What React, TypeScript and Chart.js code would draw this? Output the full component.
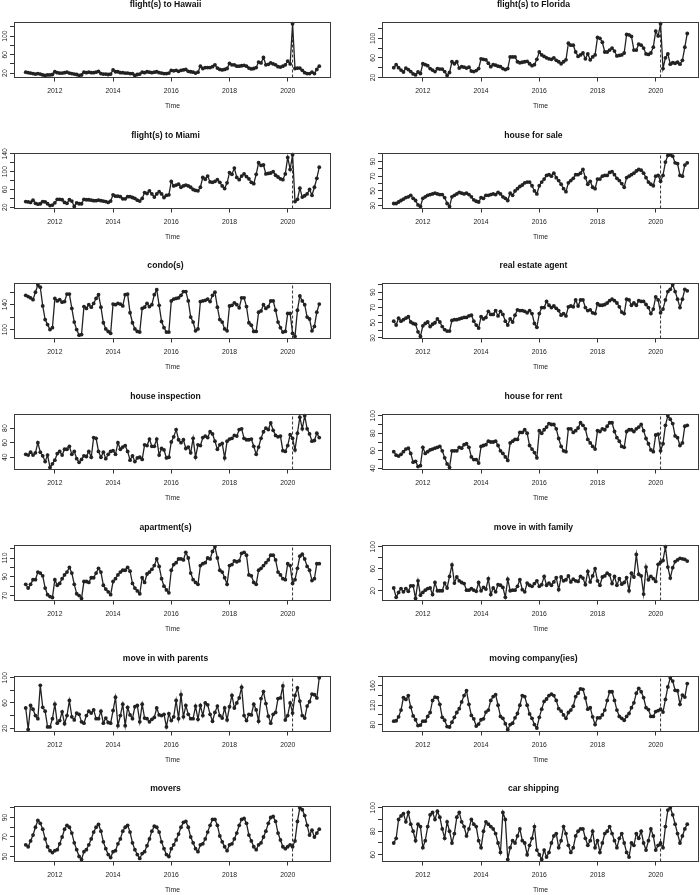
import React, { useEffect, useRef } from 'react';
import { Chart, registerables } from 'chart.js';

Chart.register(...registerables);
Chart.defaults.font.family = '"Liberation Sans", Arial, Helvetica, sans-serif';

const START_YEAR = 2011;
const MARK_TIME = 2020 + 2 / 12;
const X_TICKS = [2012, 2014, 2016, 2018, 2020];

const hawaii = [
  22, 21, 20, 19, 18, 19, 18, 16, 15, 16, 16, 17,
  23, 21, 20, 20, 21, 22, 20, 19, 18, 17, 15, 16,
  22, 21, 22, 21, 21, 22, 24, 19, 18, 18, 17, 18,
  27, 23, 23, 21, 21, 20, 20, 19, 19, 15, 17, 18,
  22, 21, 23, 22, 21, 22, 23, 21, 20, 19, 19, 20,
  26, 25, 26, 24, 26, 27, 28, 24, 23, 22, 20, 22,
  35, 30, 32, 32, 32, 34, 38, 31, 28, 27, 28, 30,
  41, 38, 38, 35, 35, 36, 37, 35, 31, 29, 30, 32,
  44, 42, 54, 38, 39, 42, 40, 38, 34, 33, 35, 38,
  46, 40, 127, 30, 31, 31, 26, 21, 19, 19, 22, 19,
  28, 35,
];
const florida = [
  40, 46, 40, 35, 31, 39, 36, 32, 27, 25, 31, 28,
  48, 46, 44, 38, 35, 32, 38, 37, 37, 32, 24, 30,
  52, 48, 52, 39, 42, 41, 39, 41, 33, 32, 34, 38,
  58, 57, 56, 49, 42, 46, 45, 43, 42, 38, 36, 38,
  62, 62, 62, 52, 50, 51, 52, 53, 48, 44, 46, 57,
  72, 66, 63, 60, 58, 57, 60, 55, 52, 48, 52, 56,
  90, 86, 86, 72, 63, 66, 70, 58, 68, 56, 62, 66,
  102, 100, 92, 72, 72, 76, 80, 74, 64, 65, 66, 70,
  108, 107, 104, 76, 76, 88, 86, 80, 68, 67, 70, 82,
  115, 105, 130, 38, 60, 68, 47, 50, 49, 51, 47, 55,
  82, 110,
];
const miami = [
  33, 32, 31, 36, 29, 27, 28, 33, 32, 28, 24, 25,
  30, 38, 38, 37, 31, 29, 37, 34, 22, 30, 28, 28,
  38, 37, 37, 36, 35, 35, 36, 35, 34, 33, 31, 34,
  48, 45, 45, 44, 39, 39, 44, 44, 42, 40, 36, 34,
  40, 53, 51, 57, 50, 43, 50, 55, 50, 42, 47, 48,
  78, 68, 70, 72, 65, 68, 70, 68, 65, 60, 58, 57,
  65, 87, 83, 90, 77, 76, 78, 82, 76, 68, 62, 75,
  98, 94, 108, 87, 82, 90, 95, 89, 84, 76, 73, 94,
  120, 114, 115, 95, 96, 97, 100, 92, 88, 84, 82, 95,
  132, 105, 138, 33, 38, 63, 43, 46, 50, 60, 47, 65,
  85, 110,
];
const houseForSale = [
  33, 33, 35, 37, 39, 41, 42, 44, 40, 37, 31, 29,
  40, 42, 44, 45, 46, 47, 46, 45, 45, 41, 33, 29,
  42, 44, 46, 48, 47, 46, 47, 45, 42, 38, 36, 35,
  41, 40, 44, 44, 45, 46, 45, 48, 46, 42, 40, 37,
  47, 44, 50, 53, 56, 58, 61, 62, 62, 57, 50, 46,
  57, 62, 66, 71, 72, 70, 74, 68, 64, 59, 53, 49,
  61, 64, 67, 72, 72, 74, 79, 68, 59, 63, 55, 53,
  66, 66, 70, 71, 71, 75, 76, 72, 67, 64, 60, 55,
  68, 70, 72, 74, 77, 79, 78, 74, 68, 62, 59, 57,
  70, 71, 63, 71, 89, 98, 99, 97, 88, 87, 71, 70,
  85, 88,
];
const condo = [
  155, 153, 151, 148, 160, 172, 168, 138, 116, 108, 100, 103,
  150, 146, 148, 144, 145, 157, 157, 134, 112, 100, 91, 92,
  137, 134, 140, 136, 142, 150, 156, 136, 111, 101, 97, 94,
  141, 140, 142, 141, 138, 156, 157, 127, 111, 101, 97, 96,
  134, 136, 142, 137, 140, 156, 164, 139, 113, 103, 96, 96,
  146, 149, 150, 151, 155, 161, 161, 146, 120, 112, 98, 101,
  145, 146, 147, 149, 145, 155, 160, 136, 116, 112, 101, 98,
  138, 139, 143, 140, 135, 151, 151, 137, 111, 107, 97, 97,
  128, 130, 140, 134, 137, 146, 146, 131, 112, 103, 96, 97,
  126, 126, 94, 89, 131, 154, 146, 140, 120, 117, 98, 105,
  128, 141,
];
const realEstateAgent = [
  52, 47, 56, 52, 54, 56, 58, 51, 49, 48, 38, 32,
  46, 49, 51, 45, 48, 50, 55, 51, 45, 41, 39, 39,
  53, 54, 54, 55, 56, 57, 57, 59, 60, 52, 47, 43,
  58, 55, 57, 65, 61, 61, 66, 59, 65, 61, 52, 47,
  55, 51, 60, 67, 66, 66, 65, 63, 66, 62, 49, 44,
  62, 70, 70, 78, 73, 70, 72, 69, 66, 60, 62, 59,
  71, 72, 71, 80, 72, 80, 80, 70, 66, 67, 63, 62,
  75, 73, 73, 74, 76, 79, 81, 79, 76, 71, 64, 62,
  81, 80, 73, 76, 73, 79, 78, 78, 74, 70, 62, 68,
  84, 80, 63, 68, 80, 91, 94, 100, 91, 81, 70, 81,
  94, 92,
];
const houseInspection = [
  44, 43, 47, 43, 46, 60, 47, 42, 34, 43, 26, 31,
  36, 45, 48, 43, 51, 51, 55, 44, 48, 38, 33, 37,
  42, 41, 48, 40, 67, 66, 48, 40, 47, 38, 44, 48,
  49, 44, 60, 51, 54, 56, 48, 36, 42, 34, 39, 40,
  37, 57, 56, 65, 55, 55, 65, 43, 52, 50, 39, 40,
  61, 68, 78, 64, 60, 64, 52, 54, 46, 66, 40, 57,
  56, 67, 69, 67, 75, 72, 62, 51, 57, 59, 39, 62,
  65, 66, 70, 69, 78, 79, 66, 64, 64, 65, 55, 44,
  54, 66, 75, 80, 78, 87, 77, 70, 68, 69, 49, 48,
  56, 71, 66, 50, 73, 95, 79, 97, 79, 72, 62, 63,
  73, 67,
];
const houseForRent = [
  59, 55, 54, 56, 59, 62, 63, 57, 47, 48, 42, 43,
  64, 57, 59, 61, 62, 63, 64, 65, 60, 52, 45, 41,
  60, 60, 60, 64, 63, 67, 68, 64, 53, 50, 50, 46,
  65, 66, 67, 71, 70, 70, 71, 66, 60, 57, 53, 49,
  69, 71, 73, 73, 81, 81, 84, 80, 66, 62, 58, 52,
  83, 80, 84, 87, 91, 90, 90, 85, 74, 65, 60, 59,
  85, 85, 81, 83, 86, 92, 89, 85, 73, 69, 65, 62,
  83, 82, 85, 84, 88, 92, 92, 82, 75, 71, 65, 64,
  82, 84, 84, 82, 85, 87, 90, 83, 74, 68, 61, 59,
  78, 79, 60, 68, 89, 100, 96, 91, 77, 75, 66, 69,
  88, 89,
];
const apartments = [
  82, 78, 82, 87, 87, 95, 94, 91, 78, 71, 69, 68,
  87, 81, 83, 88, 92, 95, 100, 94, 82, 72, 70, 67,
  85, 85, 84, 89, 89, 94, 99, 95, 81, 77, 74, 71,
  85, 88, 92, 95, 97, 97, 100, 96, 83, 78, 75, 72,
  89, 84, 93, 95, 98, 102, 109, 101, 88, 80, 76, 73,
  97, 103, 105, 109, 109, 108, 116, 110, 94, 87, 84, 82,
  102, 104, 105, 110, 109, 117, 122, 110, 97, 95, 89, 82,
  102, 103, 107, 106, 107, 115, 116, 113, 92, 91, 84, 82,
  97, 99, 102, 105, 108, 113, 113, 108, 95, 92, 88, 87,
  104, 102, 83, 87, 99, 112, 114, 109, 101, 97, 86, 88,
  104, 104,
];
const moveInFamily = [
  25, 8, 17, 24, 18, 24, 19, 29, 29, 6, 38, 12,
  17, 21, 24, 25, 13, 35, 20, 20, 20, 34, 25, 46,
  67, 34, 45, 38, 35, 33, 21, 21, 24, 21, 19, 35,
  20, 26, 23, 42, 13, 25, 18, 31, 30, 26, 8, 41,
  20, 21, 21, 28, 40, 22, 18, 34, 30, 28, 33, 38,
  28, 31, 46, 30, 34, 30, 36, 44, 22, 45, 38, 40,
  47, 36, 41, 38, 37, 46, 43, 31, 55, 36, 47, 60,
  38, 30, 45, 47, 52, 49, 33, 46, 30, 42, 32, 35,
  44, 20, 52, 45, 86, 50, 47, 14, 63, 40, 46, 42,
  37, 68, 72, 75, 100, 63, 43, 62, 73, 76, 79, 78,
  77, 74,
];
const moveInParents = [
  52, 18, 56, 50, 40, 35, 88, 53, 47, 22, 22, 35,
  58, 28, 32, 46, 27, 40, 64, 38, 33, 44, 42, 30,
  28, 40, 47, 44, 49, 35, 35, 47, 28, 36, 29, 28,
  48, 69, 24, 40, 58, 24, 53, 41, 35, 54, 56, 30,
  58, 36, 35, 30, 34, 37, 52, 41, 40, 42, 22, 43,
  32, 38, 64, 35, 73, 38, 56, 42, 35, 35, 55, 34,
  56, 40, 60, 57, 42, 31, 45, 55, 40, 36, 52, 33,
  54, 72, 52, 60, 68, 85, 40, 32, 42, 41, 58, 49,
  31, 67, 78, 59, 39, 28, 42, 45, 67, 68, 87, 33,
  40, 60, 44, 72, 84, 63, 40, 36, 55, 62, 74, 73,
  68, 100,
];
const movingCompany = [
  87, 88, 96, 110, 136, 132, 140, 116, 98, 90, 78, 79,
  87, 87, 97, 105, 130, 137, 136, 122, 95, 89, 76, 75,
  85, 95, 105, 113, 127, 140, 150, 122, 99, 92, 77, 81,
  90, 92, 106, 110, 130, 138, 142, 120, 97, 93, 82, 70,
  80, 83, 94, 103, 120, 140, 138, 120, 102, 93, 80, 73,
  95, 112, 128, 133, 140, 143, 140, 130, 113, 108, 100, 93,
  105, 110, 118, 138, 145, 154, 153, 135, 112, 115, 96, 80,
  94, 94, 100, 110, 130, 148, 148, 130, 110, 97, 93, 89,
  97, 103, 115, 125, 145, 155, 148, 136, 115, 111, 97, 97,
  107, 109, 112, 106, 132, 158, 177, 170, 151, 150, 122, 141,
  137, 165,
];
const movers = [
  62, 60, 66, 72, 80, 87, 84, 78, 68, 60, 56, 54,
  56, 57, 63, 70, 78, 82, 80, 74, 64, 57, 50, 47,
  55, 57, 62, 68, 75, 80, 83, 76, 65, 58, 52, 49,
  55, 56, 63, 68, 76, 80, 82, 75, 64, 57, 52, 48,
  53, 55, 61, 68, 76, 81, 80, 75, 65, 58, 52, 50,
  58, 62, 67, 73, 80, 85, 86, 80, 70, 64, 58, 55,
  62, 63, 68, 75, 82, 88, 88, 82, 71, 65, 60, 56,
  62, 63, 68, 74, 82, 88, 89, 84, 72, 66, 60, 57,
  62, 64, 70, 76, 84, 90, 91, 86, 74, 67, 60, 58,
  60, 62, 60, 66, 86, 100, 98, 92, 82, 72, 77, 70,
  74, 78,
];
const carShipping = [
  70, 74, 90, 93, 95, 88, 96, 86, 80, 72, 86, 84,
  66, 72, 84, 94, 96, 90, 97, 92, 82, 74, 88, 80,
  70, 78, 92, 96, 88, 84, 76, 82, 90, 86, 84, 72,
  66, 80, 88, 86, 84, 82, 78, 70, 62, 96, 90, 56,
  66, 72, 70, 76, 82, 72, 70, 60, 68, 74, 84, 64,
  60, 56, 64, 58, 62, 70, 76, 78, 66, 72, 84, 78,
  68, 62, 66, 76, 80, 82, 82, 74, 68, 72, 80, 66,
  72, 62, 70, 78, 80, 84, 78, 72, 66, 74, 78, 70,
  62, 58, 70, 68, 78, 74, 80, 70, 64, 72, 82, 76,
  64, 68, 70, 66, 84, 98, 100, 94, 86, 78, 70, 76,
  82, 86,
];

const titles = [
  'flight(s) to Hawaii', 'flight(s) to Florida',
  'flight(s) to Miami', 'house for sale',
  'condo(s)', 'real estate agent',
  'house inspection', 'house for rent',
  'apartment(s)', 'move in with family',
  'move in with parents', 'moving company(ies)',
  'movers', 'car shipping',
];
const seriesList = [
  hawaii, florida, miami, houseForSale, condo, realEstateAgent, houseInspection,
  houseForRent, apartments, moveInFamily, moveInParents, movingCompany, movers, carShipping,
];
const yTickSteps = [20, 20, 20, 10, 20, 10, 20, 10, 10, 20, 20, 20, 10, 10];
const yTickLabels = [
  [20, 60, 100], [20, 60, 100],
  [20, 60, 100, 140], [30, 50, 70, 90],
  [100, 140], [30, 50, 70, 90],
  [40, 60, 80], [40, 60, 80, 100],
  [70, 90, 110], [20, 60, 100],
  [20, 60, 100], [80, 120, 160],
  [50, 70, 90], [60, 80, 100],
];

// layout (pixels)
const FIRST_TITLE_Y = 5;
const ROW_PITCH = 130.7;
const COL_PITCH = 368;
const CANVAS_W = 345;
const CANVAS_H = 119;
const TITLE_OFFSET = 9;
const INK = '#222';
const FONT_FAMILY = '"Liberation Sans", Arial, Helvetica, sans-serif';

const extend = (lo: number, hi: number) => {
  const r = hi - lo;
  return [lo - 0.04 * r, hi + 0.04 * r];
};

const framePlugin = {
  id: 'frame',
  afterDraw(chart: any, _args: any, opts: any) {
    const { ctx, chartArea: a, scales } = chart;
    ctx.save();
    ctx.strokeStyle = '#3a3a3a';
    ctx.lineWidth = 1;
    const l = Math.round(a.left) + 0.5;
    const t = Math.round(a.top) + 0.5;
    const r = Math.round(a.right) - 0.5;
    const b = Math.round(a.bottom) - 0.5;
    ctx.strokeRect(l, t, r - l, b - t);
    ctx.fillStyle = '#222';
    ctx.font = `6.8px ${FONT_FAMILY}`;
    ctx.textAlign = 'center';
    ctx.textBaseline = 'middle';
    for (const v of opts.labels || []) {
      const y = scales.y.getPixelForValue(v);
      ctx.save();
      ctx.translate(a.left - 9, y);
      ctx.rotate(-Math.PI / 2);
      ctx.fillText(String(v), 0, 0);
      ctx.restore();
    }
    ctx.restore();
  },
};

function Panel({ index }: { index: number }) {
  const ref = useRef<HTMLCanvasElement | null>(null);
  const row = Math.floor(index / 2);
  const col = index % 2;
  const top = Math.round(FIRST_TITLE_Y + ROW_PITCH * row - TITLE_OFFSET);
  const left = COL_PITCH * col;

  useEffect(() => {
    if (!ref.current) return;
    const values = seriesList[index];
    const [yMin, yMax] = extend(Math.min(...values), Math.max(...values));
    const tEnd = START_YEAR + (values.length - 1) / 12;
    const [xMin, xMax] = extend(START_YEAR, tEnd);
    const step = yTickSteps[index];
    const yTicks: number[] = [];
    for (let v = Math.ceil(yMin / step) * step; v <= yMax; v += step) yTicks.push(v);

    const gridOpts = {
      display: true,
      drawOnChartArea: false,
      drawTicks: true,
      tickLength: 4,
      color: '#333',
      lineWidth: 1,
    };

    const chart = new Chart(ref.current, {
      type: 'line',
      data: {
        datasets: [
          {
            data: values.map((v, i) => ({ x: START_YEAR + i / 12, y: v })),
            borderColor: INK,
            backgroundColor: INK,
            borderWidth: 1.3,
            pointRadius: 1.9,
            pointBorderWidth: 0,
            pointBackgroundColor: INK,
            tension: 0,
            fill: false,
          },
          {
            data: [
              { x: MARK_TIME, y: yMin },
              { x: MARK_TIME, y: yMax },
            ],
            borderColor: '#333',
            borderWidth: 1,
            borderDash: [3, 2],
            pointRadius: 0,
            fill: false,
          },
        ],
      },
      options: {
        responsive: false,
        animation: false,
        events: [],
        layout: { padding: { left: 0, right: 14, top: 0, bottom: 0 } },
        plugins: {
          legend: { display: false },
          tooltip: { enabled: false },
          title: {
            display: true,
            text: titles[index],
            color: '#111',
            font: { size: 8.6, weight: 'bold', lineHeight: 1.2 },
            padding: { top: 3.84, bottom: 11.5 },
          },
          frame: { labels: yTickLabels[index] },
        } as any,
        scales: {
          x: {
            type: 'linear',
            min: xMin,
            max: xMax,
            afterBuildTicks: (s: any) => {
              s.ticks = X_TICKS.map((v) => ({ value: v }));
            },
            afterFit: (s: any) => {
              s.height = 37.5;
            },
            ticks: {
              callback: (v: any) => String(v),
              font: { size: 6.8, lineHeight: 1.2 },
              color: '#222',
              padding: 5.4,
              autoSkip: false,
              maxRotation: 0,
              minRotation: 0,
            },
            grid: gridOpts,
            border: { display: false },
            title: {
              display: true,
              text: 'Time',
              color: '#222',
              font: { size: 6.8, lineHeight: 1.2 },
              padding: { top: 0, bottom: 4.42 },
            },
          },
          y: {
            type: 'linear',
            min: yMin,
            max: yMax,
            afterBuildTicks: (s: any) => {
              s.ticks = yTicks.map((v) => ({ value: v }));
            },
            afterFit: (s: any) => {
              s.width = 14;
            },
            ticks: { display: false },
            grid: gridOpts,
            border: { display: false },
          },
        } as any,
      },
      plugins: [framePlugin],
    });
    return () => chart.destroy();
  }, [index]);

  return (
    <canvas
      ref={ref}
      width={CANVAS_W}
      height={CANVAS_H}
      style={{ position: 'absolute', left, top, width: CANVAS_W, height: CANVAS_H }}
    />
  );
}

export default function App() {
  return (
    <div
      style={{
        position: 'absolute',
        left: 0,
        top: 0,
        width: 700,
        height: 895,
        overflow: 'hidden',
        background: '#fff',
      }}
    >
      {titles.map((_, i) => (
        <Panel key={i} index={i} />
      ))}
    </div>
  );
}
